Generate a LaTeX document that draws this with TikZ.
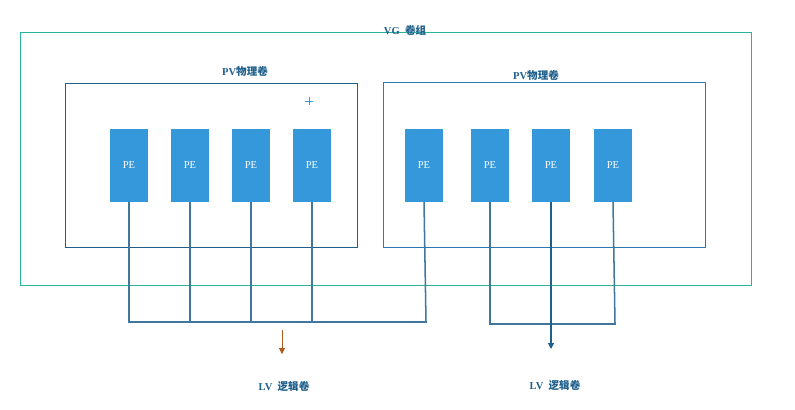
\documentclass[tikz,border=0pt]{standalone}
\usepackage{fontspec}
\setmainfont{Liberation Serif}
\newfontfamily\cjk{Noto Sans CJK SC}
\usetikzlibrary{positioning,arrows.meta}
\definecolor{lanpe}{HTML}{3598DB}
\definecolor{lanchu}{HTML}{1F5F8B}
\definecolor{xanhvg}{HTML}{2AB39C}
\definecolor{nau}{HTML}{B05A1E}
\begin{document}
\begin{tikzpicture}[x=0.03cm,y=-0.03cm,
		pe/.style={fill=lanpe,minimum width=1.14cm,minimum height=2.19cm,inner sep=0pt,text=white,font=\small},
		nhan/.style={text=lanchu,font=\bfseries\small},
		bus/.style={draw=lanchu!85,line width=1.3pt},
	]
	\useasboundingbox (0,0) rectangle (795,409);
	%% khung
	\draw[xanhvg,line width=0.6pt] (20,32) rectangle (751,285);
	\draw[lanchu,line width=0.7pt] (65,83) rectangle (357,247);
	\draw[lanpe!80!black,line width=0.6pt] (383,82) rectangle (705,247);
	\draw[lanpe,line width=0.5pt] (305,101) -- (313,101) (309,97) -- (309,105);
	\node[nhan] (vg) at (405,30) {VG\ \ {\cjk 卷组}};
	\node[nhan] (pv1) at (245,71) {PV{\cjk 物理卷}};
	\node[nhan] (pv2) at (536,75) {PV{\cjk 物理卷}};
	%% PE
	\foreach \x [count=\i] in {129,190,251,312,424,490,551,613}{
		\node[pe] (p\i) at (\x,165) {PE};
	}
	%% LV
	\coordinate (lend) at (426,322);
	\coordinate (rend) at (615,324);
	\draw[bus] (p1.south) |- (lend) -- (p5.south);
	\foreach \i in {2,3,4}{
		\draw[bus] (p\i.south) -- (p\i.south |- lend);
	}
	\draw[bus] (p6.south) |- (rend) -- (p8.south);
	\coordinate (rtip) at (553,349);
	\draw[draw=lanchu,line width=1pt,-{Triangle[length=5pt,width=5pt]}] (p7.south) -- (p7.south |- rtip);
	\coordinate (ltop) at (282,330);
	\coordinate (ltip) at (282,354);
	\draw[nau,line width=0.6pt,-{Triangle[length=5pt,width=5pt]}] (ltop) -- (ltip);
	\node[nhan] (lv1) at (284,386) {LV\ \ {\cjk 逻辑卷}};
	\node[nhan] (lv2) at (555,385) {LV\ \ {\cjk 逻辑卷}};
\end{tikzpicture}
\end{document}
